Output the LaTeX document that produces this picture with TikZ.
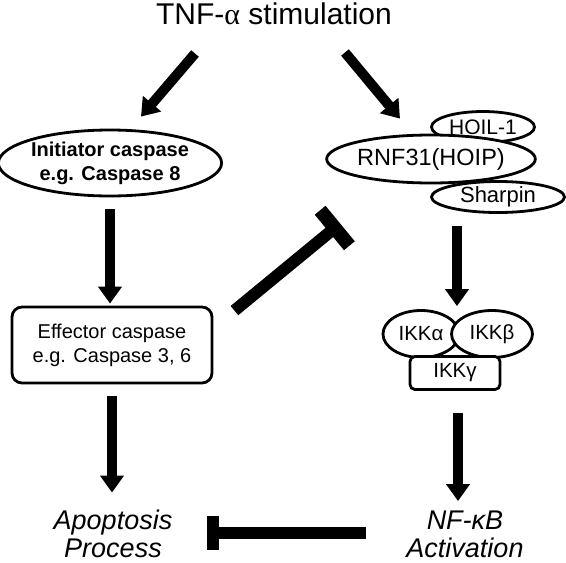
\documentclass[tikz,border=0pt]{standalone}
\usepackage{fontspec}
\setmainfont{Liberation Sans}
\newfontfamily\symserif{Liberation Serif}
\usetikzlibrary{arrows.meta,shapes.geometric,calc}

\newcommand{\fsz}[2]{\fontsize{#1}{#2}\selectfont}
\tikzset{
  arr/.style={line width=10pt,-{Triangle[length=17pt,width=23pt]}},
  inhib/.style={line width=12pt},
  tbar/.style={line width=14pt},
  oval/.style={draw,ellipse,line width=2.8pt,fill=white,inner sep=0pt},
  capbox/.style={draw,rounded corners=10pt,line width=2.8pt,fill=white,inner sep=0pt},
}

\begin{document}
\begin{tikzpicture}[x=1pt,y=-1pt]
\useasboundingbox (0,0) rectangle (566,563);

\node[anchor=base,inner sep=0pt,font=\fsz{30}{32}] (title) at (274,24) {TNF-{\symserif α} stimulation};

% left column
\node[oval,minimum width=196pt,minimum height=66pt,align=center,font=\fsz{20}{24}\bfseries] (init) at (110,163) {Initiator caspase\\e.g. Caspase 8};
\node[capbox,minimum width=200pt,minimum height=76pt,align=center,font=\fsz{20}{24}] (eff) at (112,345) {Effector caspase\\e.g. Caspase 3, 6};
\node[align=center,font=\fsz{27}{28}\itshape] (apop) at (113,534) {Apoptosis\\Process};

% right column
\node[oval,minimum width=103pt,minimum height=31pt,font=\fsz{21}{23}] (hoil) at (483,127) {HOIL-1};
\node[oval,minimum width=133pt,minimum height=31pt,font=\fsz{22}{24}] (sharpin) at (498,197) {Sharpin};
\node[oval,minimum width=197pt,minimum height=48pt,font=\fsz{23.5}{25}] (rnf) at (431,159) {RNF31(HOIP)};

\node[oval,minimum width=76pt,minimum height=47pt,font=\fsz{20.5}{22}] (ikka) at (421,334) {IKKα};
\node[oval,minimum width=81pt,minimum height=47pt,font=\fsz{20.5}{22}] (ikkb) at (492,334) {IKKβ};
\node[capbox,rounded corners=5pt,minimum width=90pt,minimum height=33pt,font=\fsz{20.5}{22}] (ikkg) at (455,373) {IKKγ};
\node[align=center,font=\fsz{27}{28}\itshape] (nfkb) at (465,534) {NF-κB\\Activation};

% arrows
\draw[arr] ([shift={(-79,29)}]title.south) -- ([shift={(31,-12)}]init.north);
\draw[arr] ([shift={(71,28)}]title.south) -- ([shift={(-31,-15)}]rnf.north);
\draw[arr] ([shift={(0,12)}]init.south) -- ([shift={(0,-2)}]init.south |- eff.north);
\draw[arr] ([shift={(0,12)}]eff.south) -- ([shift={(0,-14)}]eff.south |- apop.north);
\draw[arr] ([shift={(26,42)}]rnf.south) -- ([shift={(36,-3)}]ikka.north);
\draw[arr] ([shift={(3,22)}]ikkg.south) -- ([shift={(3,-6)}]ikkg.south |- nfkb.north);

% inhibition
\coordinate (dA) at ([shift={(21,5)}]eff.north east);
\coordinate (dB) at ([shift={(9.5,69)}]rnf.west);
\draw[inhib] (dA) -- (dB);
\draw[tbar] ($(dB)!23pt!90:(dA)$) -- ($(dB)!23pt!-90:(dA)$);

\coordinate (hA) at ([shift={(-37,-1)}]nfkb.west);
\coordinate (hB) at ([shift={(37,-1)}]apop.east);
\draw[inhib] (hA) -- (hB);
\draw[tbar,line width=12pt] ($(hB)!17pt!90:(hA)$) -- ($(hB)!17pt!-90:(hA)$);

\end{tikzpicture}
\end{document}
